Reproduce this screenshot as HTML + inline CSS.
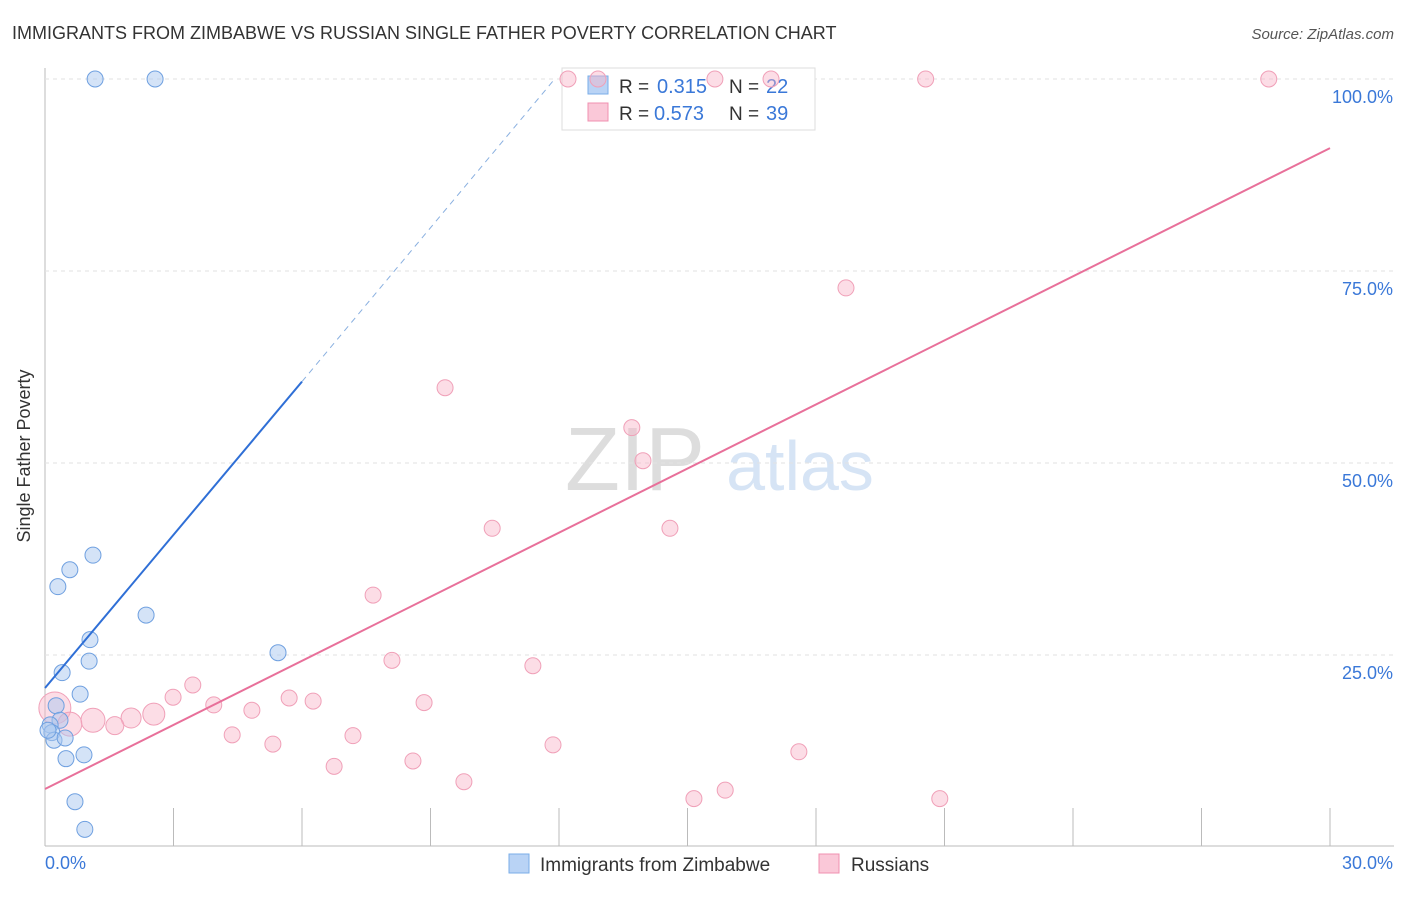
<!DOCTYPE html>
<html><head><meta charset="utf-8"><style>
body{margin:0;background:#fff;font-family:"Liberation Sans",sans-serif;}
svg text{font-family:"Liberation Sans",sans-serif;}
</style></head><body>
<svg id="c" width="1406" height="892">
<text x="12" y="39" font-size="18" fill="#333">IMMIGRANTS FROM ZIMBABWE VS RUSSIAN SINGLE FATHER POVERTY CORRELATION CHART</text>
<text x="1394" y="39" font-size="15" fill="#555" text-anchor="end" font-style="italic">Source: ZipAtlas.com</text>
<text x="30" y="456" font-size="18" fill="#333" text-anchor="middle" transform="rotate(-90 30 456)">Single Father Poverty</text>
<g><text x="635" y="490" font-size="90" fill="#ddd" text-anchor="middle" font-family="Liberation Serif">ZIP</text><text x="800" y="490" font-size="70" fill="#d6e4f5" text-anchor="middle">atlas</text></g>
<g id="grid"></g>
<g>
<rect x="562" y="68" width="253" height="62" fill="#fff" stroke="#ddd"/>
<rect x="588" y="76" width="20" height="18" fill="#b9d3f5" stroke="#7aaee8"/>
<rect x="588" y="103" width="20" height="18" fill="#fac8d8" stroke="#f090b0"/>
<text x="619" y="93" font-size="19" fill="#333">R =</text><text x="657" y="93" font-size="20" fill="#3a78d8">0.315</text>
<text x="729" y="93" font-size="19" fill="#333">N =</text><text x="766" y="93" font-size="20" fill="#3a78d8">22</text>
<text x="619" y="120" font-size="19" fill="#333">R =</text><text x="654" y="120" font-size="20" fill="#3a78d8">0.573</text>
<text x="729" y="120" font-size="19" fill="#333">N =</text><text x="766" y="120" font-size="20" fill="#3a78d8">39</text>
</g>
<g id="marks"></g>
<g>
<rect x="509" y="854" width="20" height="19" fill="#b9d3f5" stroke="#7aaee8"/>
<text x="540" y="871" font-size="19" fill="#333">Immigrants from Zimbabwe</text>
<rect x="819" y="854" width="20" height="19" fill="#fac8d8" stroke="#f090b0"/>
<text x="851" y="871" font-size="19" fill="#333">Russians</text>
</g>
</svg>
<script>
const xTicks=[0,30];
const yTicks=[25,50,75,100];
const blueX=[1.17,2.57,1.12,0.58,0.30,2.36,1.05,1.03,0.40,5.44,0.82,0.26,0.35,0.12,0.16,0.21,0.47,0.49,0.91,0.70,0.93,0.07];
const blueY=[100,100,38.0,36.1,33.9,30.2,27.0,24.2,22.7,25.3,19.9,18.4,16.5,15.9,14.9,13.9,14.2,11.5,12.0,5.9,2.3,15.2];
const pinkX=[12.21,12.91,15.64,16.95,20.56,28.57,18.70,9.34,13.70,13.96,10.44,14.59,7.66,8.10,11.39,3.45,2.99,5.70,6.26,3.94,4.83,8.85,2.54,2.01,1.12,1.63,0.23,0.58,4.37,5.32,7.19,11.86,6.75,8.59,9.78,17.60,15.15,15.88,20.89];
const pinkY=[100,100,100,100,100,100,72.8,59.8,54.6,50.3,41.5,41.5,32.8,24.3,23.6,21.1,19.5,19.4,19.0,18.5,17.8,18.8,17.3,16.8,16.5,15.8,18.1,16.0,14.6,13.4,14.5,13.3,10.5,11.2,8.5,12.4,6.3,7.4,6.3];
const pinkR=[8,8,8,8,8,8,8,8,8,8,8,8,8,8,8,8,8,8,8,8,8,8,11,10,12,9,16,12,8,8,8,8,8,8,8,8,8,8,8];
const blueLine=[0,20.7,6,60.6,11.9,100];
const pinkLine=[0,7.55,30,91.0];
const X=v=>45+v/30*1285, Y=v=>847-v/100*768;
const NS="http://www.w3.org/2000/svg";
function mk(p,t,a){const e=document.createElementNS(NS,t);for(const k in a)e.setAttribute(k,a[k]);p.appendChild(e);return e;}
const g=document.getElementById('grid'), m=document.getElementById('marks');
let ax=mk(g,'line',{x1:45,y1:68,x2:45,y2:846,stroke:'#bbb'});


let bx=mk(g,'line',{x1:45,y1:846,x2:1394,y2:846,stroke:'#bbb'});


for(let i=1;i<=10;i++){const t=mk(g,'line',{x1:X(i*3),y1:808,x2:X(i*3),y2:846,stroke:'#bbb'});

}
yTicks.forEach(v=>{const l=mk(g,'line',{x1:45,y1:Y(v),x2:1394,y2:Y(v),stroke:'#e2e2e2','stroke-dasharray':'4,4'});


const t=mk(g,'text',{x:1393,y:Y(v)+24,'font-size':18,fill:'#3a78d8','text-anchor':'end'});t.textContent=v.toFixed(1)+'%';

});
xTicks.forEach((v,i)=>{const t=mk(g,'text',{x:i?1393:45,y:869,'font-size':18,fill:'#3a78d8','text-anchor':i?'end':'start'});t.textContent=v.toFixed(1)+'%';

});
pinkX.forEach((v,i)=>{const c=mk(m,'circle',{cx:X(v),cy:Y(pinkY[i]),r:pinkR[i],fill:'rgba(248,180,200,0.45)',stroke:'#f0a0b8','stroke-width':1});

});
blueX.forEach((v,i)=>{const c=mk(m,'circle',{cx:X(v),cy:Y(blueY[i]),r:8,fill:'rgba(170,200,240,0.5)',stroke:'#6fa0e0','stroke-width':1});

});
let bl=mk(m,'line',{x1:X(blueLine[0]),y1:Y(blueLine[1]),x2:X(blueLine[2]),y2:Y(blueLine[3]),stroke:'#2f6fd6','stroke-width':2});


let bd=mk(m,'line',{x1:X(blueLine[2]),y1:Y(blueLine[3]),x2:X(blueLine[4]),y2:Y(blueLine[5]),stroke:'#8ab0e0','stroke-width':1,'stroke-dasharray':'6,5'});


let pl=mk(m,'line',{x1:X(pinkLine[0]),y1:Y(pinkLine[1]),x2:X(pinkLine[2]),y2:Y(pinkLine[3]),stroke:'#e8709a','stroke-width':2});


</script>
</body></html>
